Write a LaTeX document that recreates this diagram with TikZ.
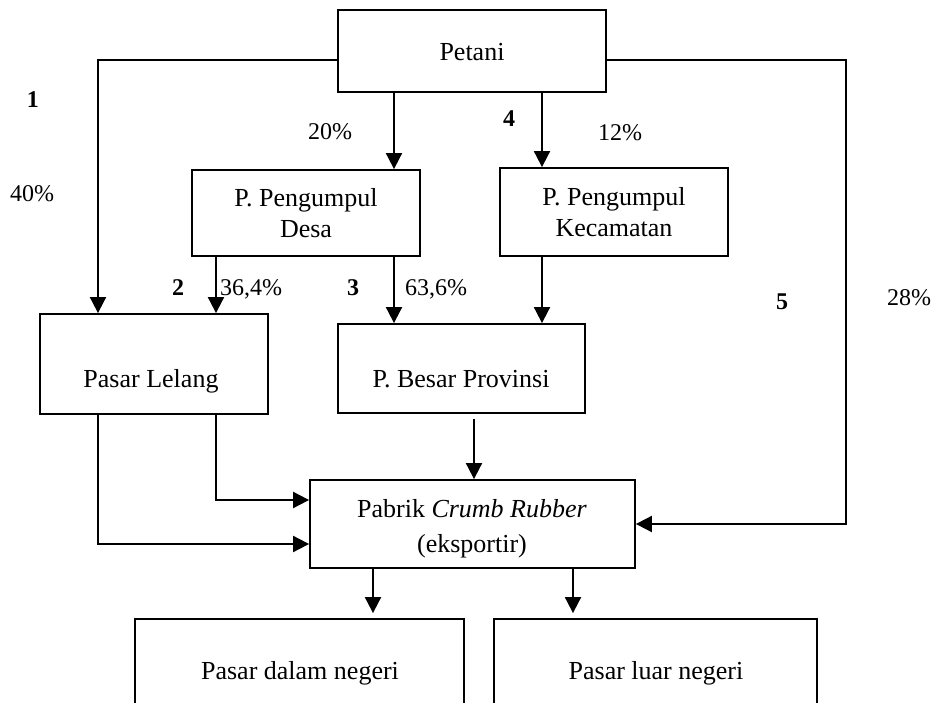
\documentclass[tikz,border=0pt]{standalone}
\usepackage{fontspec}
\setmainfont{Liberation Serif}
\usetikzlibrary{arrows.meta}
\begin{document}
\begin{tikzpicture}[x=1pt,y=-1pt,
  box/.style={draw,line width=1.8pt,inner sep=0pt,minimum width=#1},
  txt/.style={inner sep=0pt,anchor=base,font=\fontsize{26}{30}\selectfont},
  lbl/.style={inner sep=0pt,anchor=base,font=\fontsize{24}{28}\selectfont},
  blbl/.style={inner sep=0pt,anchor=base,font=\fontsize{24}{28}\selectfont\bfseries},
  conn/.style={line width=1.9pt,-{Triangle[length=16pt,width=16pt]}},
  line/.style={line width=1.9pt}]
\useasboundingbox (0,0) rectangle (938,703);
\clip (0,0) rectangle (938,703);
\fill[white] (0,0) rectangle (938,703);
% boxes
\node[box=268pt,minimum height=82pt] (pet) at (472,51) {};
\node[box=228pt,minimum height=86pt] (desa) at (306,213) {};
\node[box=228pt,minimum height=88pt] (kec) at (614,212) {};
\node[box=228pt,minimum height=100pt] (lel) at (154,364) {};
\node[box=247pt,minimum height=89pt] (bes) at (461.5,368.5) {};
\node[box=325pt,minimum height=88pt] (pab) at (472.5,524) {};
\node[box=329pt,minimum height=122pt] (b1) at (299.5,680) {};
\node[box=323pt,minimum height=122pt] (b2) at (655.5,680) {};
% box texts
\node[txt] (pet-t) at (472,61) {Petani};
\node[txt] (desa-t1) at (306,207) {P. Pengumpul};
\node[txt] (desa-t2) at (306,238) {Desa};
\node[txt] (kec-t1) at (614,206) {P. Pengumpul};
\node[txt] (kec-t2) at (614,237) {Kecamatan};
\node[txt] (lel-t) at (151,388) {Pasar Lelang};
\node[txt] (bes-t) at (461,388) {P. Besar Provinsi};
\node[txt] (pab-t1) at (472,518) {Pabrik \textit{Crumb Rubber}};
\node[txt] (pab-t2) at (472,552) {(eksportir)};
\node[txt] (b1-t) at (300,679) {Pasar dalam negeri};
\node[txt] (b2-t) at (656,679) {Pasar luar negeri};
% labels
\node[blbl] (l1) at (33,108) {1};
\node[lbl] (p40) at (32,202) {40\%};
\node[lbl] (p20) at (330,140) {20\%};
\node[blbl] (l4) at (509,127) {4};
\node[lbl] (p12) at (620,141) {12\%};
\node[blbl] (l2) at (178,296) {2};
\node[lbl] (p364) at (251,296) {36,4\%};
\node[blbl] (l3) at (353,296) {3};
\node[lbl] (p636) at (436,296) {63,6\%};
\node[blbl] (l5) at (782,310) {5};
\node[lbl] (p28) at (909,306) {28\%};
% helper coordinates
\coordinate (xA) at (394,0);
\coordinate (xB) at (542,0);
\coordinate (xC) at (216,0);
\coordinate (xE) at (474,0);
\coordinate (xF) at (373,0);
\coordinate (xG) at (573,0);
\coordinate (c1) at (98,60);
\coordinate (c5) at (846,60);
\coordinate (c6) at (846,524);
\coordinate (yA) at (0,500);
\coordinate (yB) at (98,544);
% connectors
\draw[conn] (pet.west |- c1) -- (c1) -- (c1 |- lel.north);
\draw[conn] (pet.east |- c5) -- (c5) -- (c6) -- (c6 -| pab.east);
\draw[conn] (pet.south -| xA) -- (desa.north -| xA);
\draw[conn] (pet.south -| xB) -- (kec.north -| xB);
\draw[conn] (desa.south -| xC) -- (lel.north -| xC);
\draw[conn] (desa.south -| xA) -- (bes.north -| xA);
\draw[conn] (kec.south -| xB) -- (bes.north -| xB);
\draw[conn,shorten <=5pt] (bes.south -| xE) -- (pab.north -| xE);
\draw[conn] (lel.south -| xC) -- (xC |- yA) -- (pab.west |- yA);
\draw[conn] (lel.south -| yB) -- (yB) -- (pab.west |- yB);
\draw[conn,shorten >=5pt] (pab.south -| xF) -- (b1.north -| xF);
\draw[conn,shorten >=5pt] (pab.south -| xG) -- (b2.north -| xG);
\end{tikzpicture}
\end{document}
